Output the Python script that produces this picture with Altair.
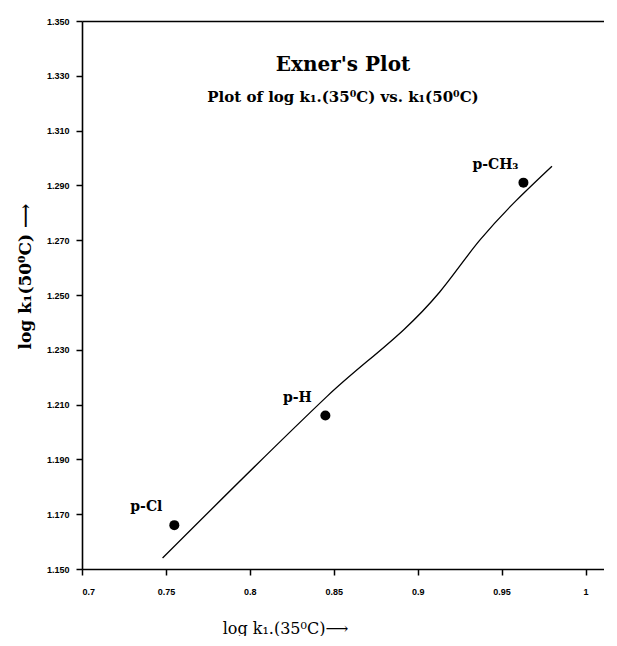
import altair as alt
import pandas as pd

# Data
subst = ["p-Cl", "p-H", "p-CH₃"]
log_k35 = [0.755, 0.845, 0.963]
log_k50 = [1.166, 1.206, 1.291]

# hand-drawn correlation line
line_x = [0.748, 0.846, 0.913, 0.937, 0.980]
line_y = [1.154, 1.213, 1.251, 1.270, 1.297]

x_ticks = [0.7, 0.75, 0.8, 0.85, 0.9, 0.95, 1.0]
y_ticks = [1.15, 1.17, 1.19, 1.21, 1.23, 1.25, 1.27, 1.29, 1.31, 1.33, 1.35]

pts = pd.DataFrame({"sub": subst, "x": log_k35, "y": log_k50})
ln = pd.DataFrame({"x": line_x, "y": line_y})

serif = "DejaVu Serif"
lab_font = "Liberation Sans"

xscale = alt.Scale(domain=[0.7, 1.011], nice=False, zero=False)
yscale = alt.Scale(domain=[1.15, 1.35], nice=False, zero=False)

xaxis = alt.Axis(
    values=x_ticks, format="~g", grid=False, ticks=True, tickSize=6, tickWidth=1.5,
    labelPadding=12,
    labelFont=lab_font, labelFontWeight="bold", labelFontSize=9, labelColor="black",
    domainColor="black", domainWidth=1.6, tickColor="#000000",
    title="log k₁.(35⁰C)⟶", titleFont=serif, titleFontSize=16, titleFontWeight="normal",
    titleColor="black", titlePadding=24, titleX=203,
)
yaxis = alt.Axis(
    values=y_ticks, format=".3f", grid=False, ticks=True, tickSize=6, tickWidth=1.5,
    labelPadding=7,
    labelFont=lab_font, labelFontWeight="bold", labelFontSize=9, labelColor="black",
    domainColor="black", domainWidth=1.6, tickColor="#000000",
    title="log k₁(50⁰C) ⟶", titleFont=serif, titleFontSize=17, titleFontWeight="bold",
    titleColor="black", titlePadding=12, titleY=255,
)
top_axis = alt.Axis(orient="top", labels=False, ticks=False, grid=False, title=None,
                    domainColor="black", domainWidth=1.6)

line = alt.Chart(ln).mark_line(color="black", strokeWidth=1.3, interpolate="monotone").encode(
    x=alt.X("x:Q", scale=xscale, axis=top_axis),
    y=alt.Y("y:Q", scale=yscale, axis=yaxis),
)

points = alt.Chart(pts).mark_circle(color="black", opacity=1, size=100).encode(
    x=alt.X("x:Q", scale=xscale, axis=xaxis),
    y=alt.Y("y:Q", scale=yscale, axis=yaxis),
)

labels = alt.Chart(pts).mark_text(
    font=serif, fontSize=14, fontWeight="bold", color="black", dx=-28, dy=-18
).encode(
    x=alt.X("x:Q", scale=xscale, axis=None),
    y=alt.Y("y:Q", scale=yscale, axis=yaxis),
    text="sub:N",
)

chart = (
    alt.layer(line, points, labels)
    .resolve_axis(x="independent")
    .properties(
        width=522,
        height=548,
        padding={"left": 8, "top": 9, "right": 0, "bottom": 0},
        title=alt.TitleParams(
            text="Exner's Plot",
            subtitle="Plot of log k₁.(35⁰C) vs. k₁(50⁰C)",
            font=serif, fontSize=20, fontWeight="bold", color="black",
            subtitleFont=serif, subtitleFontSize=15, subtitleFontWeight="bold",
            subtitleColor="black", subtitlePadding=15,
            anchor="middle", dy=92,
        ),
    )
    .configure_view(stroke=None)
    .configure(background="white")
)

chart.save("out.html", embed_options={"renderer": "svg", "actions": False})
